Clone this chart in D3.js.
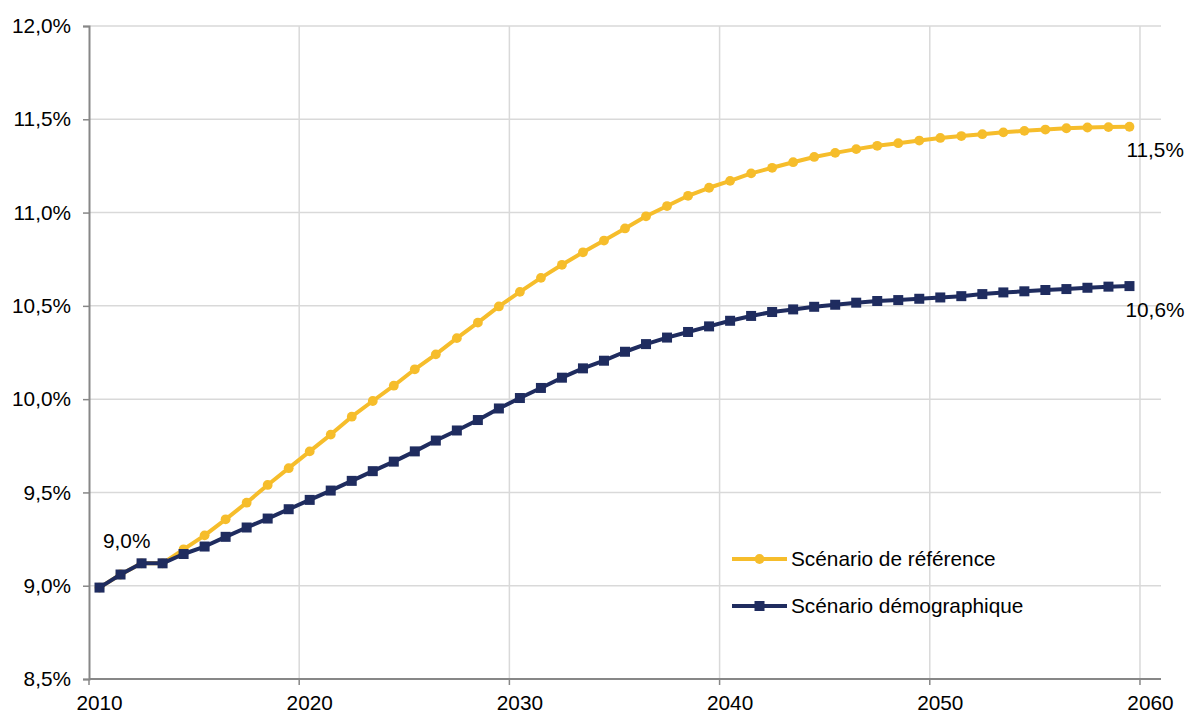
<!DOCTYPE html>
<html>
<head>
<meta charset="utf-8">
<script src="https://cdn.jsdelivr.net/npm/d3@7"></script>
<style>
  html, body { margin: 0; padding: 0; background: #fff; }
  svg { display: block; font-family: "Liberation Sans", Arial, sans-serif; }
</style>
</head>
<body>
<svg id="chart" width="1186" height="713"></svg>
<script>
// Categories (years) on the axis; the last category (2060) has no data
const categories = d3.range(2010, 2061);
const years = d3.range(2010, 2060);

// Scénario de référence (%)
const reference = [
  8.99, 9.06, 9.12, 9.12, 9.195, 9.27, 9.356, 9.445, 9.54, 9.63,
  9.72, 9.81, 9.906, 9.99, 10.072, 10.16, 10.24, 10.327, 10.41, 10.497,
  10.575, 10.65, 10.72, 10.787, 10.85, 10.915, 10.98, 11.035, 11.09, 11.133,
  11.17, 11.21, 11.24, 11.27, 11.298, 11.32, 11.34, 11.358, 11.372, 11.386,
  11.4, 11.41, 11.42, 11.43, 11.438, 11.445, 11.452, 11.456, 11.458, 11.46
];
// Scénario démographique (%)
const demographic = [
  8.99, 9.06, 9.12, 9.12, 9.17, 9.21, 9.262, 9.312, 9.36, 9.41,
  9.46, 9.51, 9.562, 9.614, 9.665, 9.72, 9.778, 9.832, 9.888, 9.95,
  10.006, 10.06, 10.115, 10.165, 10.206, 10.254, 10.295, 10.33, 10.36, 10.39,
  10.42, 10.446, 10.467, 10.481, 10.495, 10.506, 10.517, 10.526, 10.531, 10.538,
  10.545, 10.552, 10.563, 10.572, 10.578, 10.585, 10.59, 10.597, 10.603, 10.606
];

const yTicks = [8.5, 9.0, 9.5, 10.0, 10.5, 11.0, 11.5, 12.0];
const xLabelYears = [2010, 2020, 2030, 2040, 2050, 2060];
const seriesNames = ["Scénario de référence", "Scénario démographique"];
const endLabels = ["11,5%", "10,6%"];
const startLabel = "9,0%";

const colors = { ref: "#F6BD2B", dem: "#1F2C5F", grid: "#D9D9D9", axis: "#878787", text: "#000" };
const FS = 20.8;

const W = 1186, H = 713;
const margin = { top: 26, right: 25, bottom: 34, left: 89 };
const svg = d3.select("#chart");

const x = d3.scaleBand().domain(categories).range([margin.left, W - margin.right]).padding(0);
const bw = x.bandwidth();
const cx = yr => x(yr) + bw / 2;
const y = d3.scaleLinear().domain([8.5, 12.0]).range([H - margin.bottom, margin.top]);

const fmt = v => d3.format(".1f")(v).replace(".", ",") + "%";

// Horizontal gridlines
svg.append("g").selectAll("line").data(yTicks.filter(t => t > 8.5)).join("line")
  .attr("x1", margin.left).attr("x2", W - margin.right)
  .attr("y1", d => y(d)).attr("y2", d => y(d))
  .attr("stroke", colors.grid).attr("stroke-width", 1.5);

// Vertical gridlines
svg.append("g").selectAll("line").data(xLabelYears.filter(t => t > 2010)).join("line")
  .attr("x1", d => x(d)).attr("x2", d => x(d))
  .attr("y1", margin.top).attr("y2", H - margin.bottom)
  .attr("stroke", colors.grid).attr("stroke-width", 1.5);

// Y axis
const yAxis = d3.axisLeft(y).tickValues(yTicks).tickFormat(fmt).tickSize(6).tickPadding(12);
const gy = svg.append("g").attr("transform", `translate(${margin.left},0)`).call(yAxis);
gy.select(".domain").attr("stroke", colors.axis).attr("stroke-width", 2);
gy.selectAll(".tick line").attr("stroke", colors.axis).attr("stroke-width", 1.5);
gy.selectAll(".tick text").attr("font-size", FS).attr("fill", colors.text)
  .attr("font-family", "Liberation Sans, Arial, sans-serif");

// X axis (ticks at category boundaries, labels centered on categories)
const gx = svg.append("g").attr("transform", `translate(0,${H - margin.bottom})`);
gx.append("line").attr("x1", margin.left).attr("x2", W - margin.right)
  .attr("stroke", colors.axis).attr("stroke-width", 2);
gx.selectAll("line.tk").data(xLabelYears).join("line").attr("class", "tk")
  .attr("x1", d => x(d)).attr("x2", d => x(d)).attr("y1", 0).attr("y2", 6)
  .attr("stroke", colors.axis).attr("stroke-width", 1.5);
gx.selectAll("text").data(xLabelYears).join("text")
  .attr("x", d => cx(d)).attr("y", 31).attr("text-anchor", "middle")
  .attr("font-size", FS).attr("fill", colors.text).text(d => d);

// Lines
const line = d3.line().x((d, i) => cx(years[i])).y(d => y(d));

svg.append("path").datum(reference).attr("d", line)
  .attr("fill", "none").attr("stroke", colors.ref).attr("stroke-width", 4).attr("stroke-linejoin", "round");
svg.append("g").selectAll("circle").data(reference).join("circle")
  .attr("cx", (d, i) => cx(years[i])).attr("cy", d => y(d)).attr("r", 4.9).attr("fill", colors.ref);

svg.append("path").datum(demographic).attr("d", line)
  .attr("fill", "none").attr("stroke", colors.dem).attr("stroke-width", 4).attr("stroke-linejoin", "round");
const sq = 10;
svg.append("g").selectAll("rect").data(demographic).join("rect")
  .attr("x", (d, i) => cx(years[i]) - sq / 2).attr("y", d => y(d) - sq / 2)
  .attr("width", sq).attr("height", sq).attr("fill", colors.dem);

// Data labels
const lab = svg.append("g").attr("font-size", FS).attr("fill", colors.text);
lab.append("text").attr("x", 103).attr("y", y(reference[0]) - 40).text(startLabel);
lab.append("text").attr("x", cx(2059) - 3).attr("y", y(reference[49]) + 30).text(endLabels[0]);
lab.append("text").attr("x", cx(2059) - 4).attr("y", y(demographic[49]) + 31).text(endLabels[1]);

// Legend
const lg = svg.append("g");
const lx0 = 732, lx1 = 787, ly = [559, 606];
lg.append("line").attr("x1", lx0).attr("x2", lx1).attr("y1", ly[0]).attr("y2", ly[0])
  .attr("stroke", colors.ref).attr("stroke-width", 4);
lg.append("circle").attr("cx", (lx0 + lx1) / 2).attr("cy", ly[0]).attr("r", 4.9).attr("fill", colors.ref);
lg.append("line").attr("x1", lx0).attr("x2", lx1).attr("y1", ly[1]).attr("y2", ly[1])
  .attr("stroke", colors.dem).attr("stroke-width", 4);
lg.append("rect").attr("x", (lx0 + lx1) / 2 - sq / 2).attr("y", ly[1] - sq / 2)
  .attr("width", sq).attr("height", sq).attr("fill", colors.dem);
lg.selectAll("text").data(seriesNames).join("text")
  .attr("x", 791).attr("y", (d, i) => ly[i] + 7).attr("font-size", FS).attr("fill", colors.text).text(d => d);
</script>
</body>
</html>
